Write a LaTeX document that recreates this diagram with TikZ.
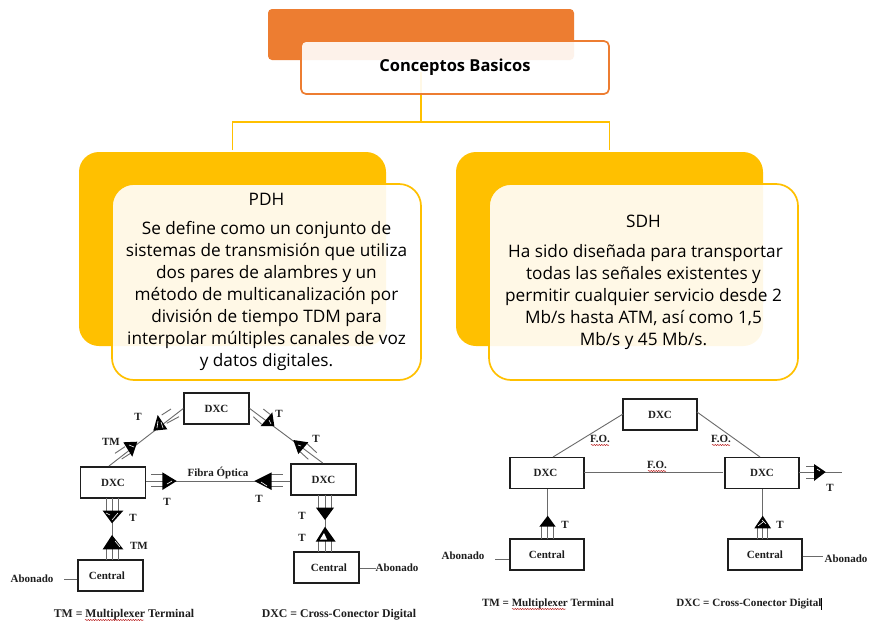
\documentclass[tikz,border=0pt]{standalone}
\usepackage{fontspec}
\setmainfont{Open Sans}
\newfontfamily\scanfont{Liberation Serif}
\usetikzlibrary{decorations.pathmorphing}
\definecolor{orangeA}{HTML}{ED7D31}
\definecolor{yellowA}{HTML}{FFC000}
\definecolor{wireC}{HTML}{6A6A6A}
\definecolor{inkC}{HTML}{1E1E1E}
\tikzset{
  link/.style={draw=yellowA,line width=1.7pt},
  backY/.style={fill=yellowA,rounded corners=20pt,inner sep=0pt,minimum width=307pt,minimum height=194pt},
  frontY/.style={draw=yellowA,line width=1.7pt,fill=white,fill opacity=.9,text opacity=1,rounded corners=22pt,inner sep=0pt,
     minimum width=309pt,minimum height=196pt,align=center,font=\fontsize{17.2}{22}\selectfont,text=black},
  sbox/.style={draw=inkC,line width=1.4pt,fill=white,inner sep=0pt,font=\scanfont\bfseries\fontsize{11}{12}\selectfont,text=inkC},
  boxA/.style={sbox,minimum width=65pt,minimum height=31pt},
  boxB/.style={sbox,minimum width=74pt,minimum height=31pt},
  scan/.style={inner sep=0pt,font=\scanfont\bfseries\fontsize{11}{12}\selectfont,text=inkC},
  abon/.style={scan,font=\scanfont\bfseries\fontsize{11}{12}\selectfont},
  keyL/.style={scan,font=\scanfont\bfseries\fontsize{11.8}{13}\selectfont},
  keyR/.style={scan,font=\scanfont\bfseries\fontsize{11.1}{13}\selectfont},
  wire/.style={draw=wireC,line width=.9pt},
  squig/.style={draw=red!70!black,line width=.45pt,decorate,decoration={snake,amplitude=.5pt,segment length=2.5pt}},
  tri/.style={fill=black},
  gleam/.style={draw=white,line width=.6pt}
}
\begin{document}
\begin{tikzpicture}[x=1pt,y=-1pt]
\useasboundingbox (0,0) rectangle (892,632);
\fill[white] (0,0) rectangle (892,632);
% top concept
\coordinate (hubTop) at (421,72);
\coordinate (hub) at (421,122);
\node[backY] (pdhBack) at (232.5,249) {};
\node[backY] (sdhBack) at (609.5,249) {};
\coordinate (pdhIn) at (232.5,150);
\coordinate (sdhIn) at (609.5,150);
\draw[link] (hubTop) -- (hub);
\draw[link] (pdhIn) |- (hub) -| (sdhIn);
\node[fill=orangeA,rounded corners=4pt,inner sep=0pt,minimum width=306pt,minimum height=51pt] (rootBack) at (421,34.5) {};
\node[draw=orangeA,line width=1.7pt,fill=white,fill opacity=.9,text opacity=1,rounded corners=5pt,inner sep=0pt,minimum width=308pt,minimum height=53pt,font=\bfseries\fontsize{16.5}{18}\selectfont] (root) at (455,67.5) {Conceptos Basicos};
% panels
\node[frontY] (pdh) at (266.5,282) {PDH\\[7pt]
Se define como un conjunto de\\
sistemas de transmisión que utiliza\\
dos pares de alambres y un\\
método de multicanalización por\\
división de tiempo TDM para\\
interpolar múltiples canales de voz\\
y datos digitales.};
\node[frontY] (sdh) at (643.5,282) {SDH\\[8pt]
\hspace*{4pt}Ha sido diseñada para transportar\\
todas las señales existentes y\\
permitir cualquier servicio desde 2\\
Mb/s hasta ATM, así como 1,5\\
Mb/s y 45 Mb/s.};

% ---------- left network
\node[boxA] (lt) at (216.5,408.5) {DXC};
\node[boxA] (ll) at (113,482.5) {DXC};
\node[boxA] (lr) at (323.5,479.5) {DXC};
\node[boxA] (lcl) at (110.5,575.5) {\hspace*{-7pt}Central};
\node[boxA] (lcr) at (326.5,567.5) {\hspace*{5pt}Central};
\coordinate (lltop) at (109,466);
\coordinate (lrtop) at (322.7,463);
\coordinate (fy) at (218,481);
\draw[wire] (lt.west) -- (lltop);
\draw[wire] (lt.east) -- (lrtop);
\draw[wire] (ll.east |- fy) -- (lr.west |- fy);
\draw[wire] (112,498) -- (112,560);
\draw[wire] (325,495) -- (325,552);
\coordinate (abL) at (64,579);
\coordinate (abR) at (376,568);
\draw[wire] (lcl.west |- abL) -- (abL);
\draw[wire] (lcr.east |- abR) -- (abR);
% parallel wires, left network
\draw[wire] (161.7,415)--(171,409) (166.7,423.3)--(179,416.7);
\draw[wire] (115,453.3)--(125,446.7) (121.7,459)--(133,451.7);
\draw[wire] (263.3,409)--(270,414.3) (253.3,416.7)--(261.7,424.3);
\draw[wire] (306.7,443.3)--(316.7,452.7) (300,451.7)--(308.3,459.3);
\draw[wire] (151,474.3)--(163,474.3) (151,486.7)--(163,486.7);
\draw[wire] (271,474.3)--(283,474.3) (271,486.7)--(283,486.7);
\draw[wire] (106,498)--(106,511) (118,498)--(118,511);
\draw[wire] (106,549)--(106,560) (118,549)--(118,560);
\draw[wire] (318.5,495)--(318.5,508) (331,495)--(331,508);
\draw[wire] (318.5,541)--(318.5,552) (331,541)--(331,552);
% triangles, left network
\fill[tri] (157.7,415)--(153.3,430.7)--(167.3,429.3)--cycle;
\draw[gleam] (158,421)--(157,428) (161,422)--(163,428);
\fill[tri] (123.3,442.3)--(137.3,441.7)--(132.3,456.7)--cycle;
\draw[gleam] (129,445)--(134,447);
\fill[tri] (260.7,426)--(274.3,426)--(272.3,412.3)--cycle;
\draw[gleam] (269,420)--(271,424);
\fill[tri] (293.3,440)--(308.3,442.3)--(298.3,454)--cycle;
\draw[gleam] (298,445)--(301,446);
\fill[tri] (162.3,472.3)--(162.3,490)--(176.7,481)--cycle;
\draw[gleam] (167,484)--(172,481);
\fill[tri] (254.3,481)--(271.7,472.3)--(271.7,490)--cycle;
\draw[gleam] (261,482)--(267,486);
\fill[tri] (102.7,510.7)--(123.3,510.7)--(112,523.3)--cycle;
\draw[gleam] (106,513)--(110,515) (118,513)--(112,520);
\fill[tri] (112,535)--(102.7,549.3)--(123.3,549.3)--cycle;
\draw[gleam] (115,541)--(120,547);
\fill[tri] (316,507.7)--(334,507.7)--(325,520)--cycle;
\fill[tri] (325,526.7)--(315.7,541.7)--(335.7,541.7)--cycle;
\fill[white] (324,533)--(320,539.5)--(327,539.5)--cycle;
% labels, left network
\node[scan] (a1) at (138,417) {T};
\node[scan] (a2) at (111,442) {TM};
\node[scan] (a3) at (279,414) {T};
\node[scan] (a4) at (316,439) {T};
\node[scan] (fibra) at (218,473) {Fibra Óptica};
\node[scan] (a5) at (167,502) {T};
\node[scan] (a6) at (259,499) {T};
\node[scan] (a7) at (133,518) {T};
\node[scan] (a8) at (139,546) {TM};
\node[scan] (a9) at (302,516) {T};
\node[scan] (a10) at (302,538) {T};
\node[abon] (abnL) at (32,579) {Abonado};
\node[abon] (abnR) at (397,568) {Abonado};
\node[keyL] (keyA) at (124,615) {TM = Multiplexer Terminal};
\node[keyL] (keyB) at (339,615) {DXC = Cross-Conector Digital};
\draw[squig] (85,620) -- (144,620);

% ---------- right network
\node[boxB] (rt) at (660,414.5) {DXC};
\node[boxB] (rl) at (547,473) {\hspace*{-3pt}DXC};
\node[boxB] (rr) at (762,473) {DXC};
\node[boxB] (rcl) at (547,554.5) {Central};
\node[boxB] (rcr) at (765,554.5) {Central};
\coordinate (rltop) at (553,457);
\coordinate (rrtop) at (760,457);
\coordinate (rout) at (842,472);
\coordinate (rabL) at (495,559);
\coordinate (rabR) at (823,556);
\draw[wire] (623,414) -- (rltop);
\draw[wire] (697,412) -- (rrtop);
\draw[wire] (584,472) -- (723,472);
\draw[wire] (799,472) -- (rout);
\draw[wire] (547.7,489) -- (547.7,539);
\draw[wire] (762.7,489) -- (762.7,539);
\draw[wire] (rcl.west |- rabL) -- (rabL);
\draw[wire] (rcr.east |- rabR) -- (rabR);
\draw[wire] (806,466)--(815,466) (806,478)--(815,478);
\draw[wire] (541.7,526)--(541.7,539) (553.3,526)--(553.3,539);
\draw[wire] (757.3,528)--(757.3,539) (767.7,528)--(767.7,539);
\fill[tri] (814,464)--(814,481)--(825.7,472)--cycle;
\draw[gleam] (817,469)--(820,471);
\fill[tri] (547.7,515.7)--(539.3,526.7)--(555.7,526.7)--cycle;
\fill[tri] (762.7,515.7)--(754.3,528.3)--(771,528.3)--cycle;
\draw[gleam] (762,520)--(766,524) (758,526)--(763,522);
\node[scan] (b1) at (600,439) {F.O.};
\node[scan] (b2) at (721,439) {F.O.};
\node[scan] (b3) at (657,465) {F.O.};
\draw[squig] (591,445) -- (609,445);
\draw[squig] (712,445) -- (730,445);
\draw[squig] (648,471) -- (666,471);
\node[scan] (b4) at (830,488) {T};
\node[scan] (b5) at (565,525) {T};
\node[scan] (b6) at (780,525) {T};
\node[abon] (abnL2) at (463,556) {Abonado};
\node[abon] (abnR2) at (846,559) {Abonado};
\node[keyR] (keyC) at (548,604) {TM = Multiplexer Terminal};
\node[keyR] (keyD) at (749,604) {DXC = Cross-Conector Digital};
\draw[squig] (512,609) -- (566,609);
\fill[black] (820.5,598) rectangle (822,610);
\end{tikzpicture}
\end{document}
